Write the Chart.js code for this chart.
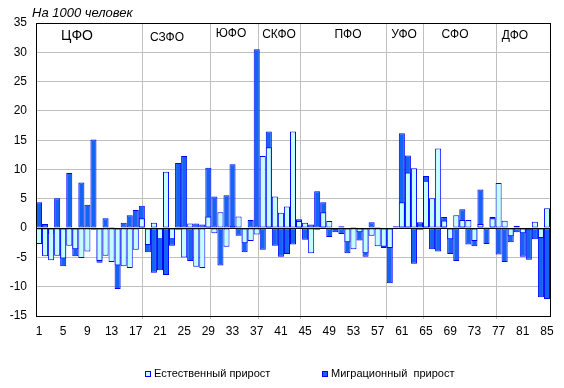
<!DOCTYPE html>
<html><head><meta charset="utf-8">
<script src="https://cdn.jsdelivr.net/npm/chart.js@4"></script>
<style>html,body{margin:0;padding:0;background:#fff;}#wrap{width:564px;height:388px;}</style>
</head><body><div id="wrap"><canvas id="c" width="564" height="388"></canvas></div>
<script>
const categories = ['1','2','3','4','5','6','7','8','9','10','11','12','13','14','15','16','17','18','19','20',
'21','22','23','24','25','26','27','28','29','30','31','32','33','34','35','36','37','38','39','40',
'41','42','43','44','45','46','47','48','49','50','51','52','53','54','55','56','57','58','59','60',
'61','62','63','64','65','66','67','68','69','70','71','72','73','74','75','76','77','78','79','80',
'81','82','83','84','85'];
const naturalGrowth = [-2.7,-4.8,-5.5,-4.7,-5.2,-3.0,-3.6,-5.1,-4.0,-0.3,
-5.6,-4.7,-5.8,-6.4,-6.5,-6.8,-3.7,1.7,-2.9,0.9,
-1.9,9.6,-1.9,-0.3,-5.0,0.8,-6.6,-6.8,2.0,-0.9,
2.7,-3.2,0.3,2.0,-2.6,-2.2,-1.1,12.3,13.8,5.4,
2.6,3.7,16.5,1.2,0.9,-4.3,-0.3,2.7,1.2,-0.3,
0.3,-2.4,-3.6,-0.7,-4.3,-1.3,-3.1,-3.2,-3.4,-0.2,
4.4,9.5,10.2,-0.3,8.1,5.1,13.6,1.3,-1.9,2.2,
1.4,1.4,-2.2,0.7,0.2,1.7,7.7,1.25,-1.4,0.4,
-0.9,-0.3,1.1,-1.7,3.4];
const migrationGrowth = [4.4,0.7,-1.0,5.1,-6.5,9.4,-4.8,7.8,4.0,15.1,
-5.9,1.7,0.2,-10.4,0.9,2.2,3.1,3.8,-4.1,-7.6,
-7.2,-8.0,-3.0,11.1,12.3,-5.6,0.8,0.6,10.3,5.4,
-6.4,5.6,10.9,-1.3,-4.1,1.4,30.5,-3.7,16.5,-3.0,
-4.9,-4.4,-2.8,1.5,-2.0,0.6,6.3,4.4,-1.5,-0.7,
-1.0,-4.3,0.2,-2.1,-4.9,1.0,0.2,-3.4,-9.4,0.3,
16.2,12.4,-6.1,1.0,8.9,-3.6,-4.0,1.9,-4.4,-5.6,
3.2,-2.8,-3.1,6.6,-2.7,1.9,-4.5,-5.8,-2.4,-0.7,
-4.9,-5.4,-1.9,-11.8,-12.1];
const xTickLabels = ['1','5','9','13','17','21','25','29','33','37','41','45','49','53','57','61','65','69','73','77','81','85'];
const yTickValues = [-15,-10,-5,0,5,10,15,20,25,30,35];
const districts = ['ЦФО','СЗФО','ЮФО','СКФО','ПФО','УФО','СФО','ДФО'];
const seriesNames = ['Естественный прирост','Миграционный  прирост'];
const yAxisTitle = 'На 1000 человек';

const FONT = "'Liberation Sans', Arial, sans-serif";

const decor = {
  id: 'decor',
  beforeDatasetsDraw(chart) {
    const {ctx, chartArea: a} = chart;
    const cw = a.width / categories.length;
    const seps = [17.65, 28.82, 36.76, 43.82, 57.88, 64.05, 76.19];
    ctx.save();
    ctx.strokeStyle = '#c0c0c0'; ctx.lineWidth = 1;
    seps.forEach(p => {
      const x = Math.floor(a.left + p * cw) + 0.5;
      ctx.beginPath(); ctx.moveTo(x, a.top); ctx.lineTo(x, a.bottom + 3); ctx.stroke();
    });
    ctx.restore();
  },
  afterDatasetsDraw(chart) {
    const {ctx, chartArea: a, scales} = chart;
    const cw = a.width / categories.length;
    ctx.save();
    // zero line
    const y0 = Math.floor(scales.y.getPixelForValue(0)) + 0.5;
    ctx.strokeStyle = '#000'; ctx.lineWidth = 1;
    ctx.beginPath(); ctx.moveTo(a.left, y0); ctx.lineTo(a.right, y0); ctx.stroke();
    // frame
    ctx.strokeRect(a.left + 0.5, a.top + 0.5, a.width, a.height);
    // district labels
    const lp = [6.78, 21.66, 32.25, 40.19, 51.6, 60.86, 69.29, 79.21];
    const ly = [36.5, 37.5, 33.5, 35, 35, 35, 35, 35.5];
    ctx.fillStyle = '#000'; ctx.textAlign = 'center'; ctx.textBaseline = 'middle';
    districts.forEach((d, i) => {
      ctx.font = (i === 0 ? '14px ' : '12px ') + FONT;
      ctx.fillText(d, a.left + lp[i] * cw, ly[i]);
    });
    // title
    ctx.font = 'italic 13px ' + FONT;
    ctx.textAlign = 'left';
    ctx.fillText(yAxisTitle, 32, 13);
    // legend
    const lx = [145, 322];
    ctx.font = '11px ' + FONT;
    chart.data.datasets.forEach((ds, i) => {
      ctx.fillStyle = ds.backgroundColor;
      ctx.fillRect(lx[i], 371, 6, 6);
      ctx.strokeStyle = ds.borderColor;
      ctx.strokeRect(lx[i] + 0.5, 371.5, 5, 5);
      ctx.fillStyle = '#000';
      ctx.fillText(ds.label, lx[i] + 9, 374);
    });
    ctx.restore();
  }
};

new Chart(document.getElementById('c'), {
  type: 'bar',
  data: {
    labels: categories,
    datasets: [
      {label: seriesNames[0], data: naturalGrowth, backgroundColor: '#c4ffff', borderColor: '#0000ff', borderWidth: 1, borderSkipped: false},
      {label: seriesNames[1], data: migrationGrowth, backgroundColor: '#1464f4', borderColor: '#0000ff', borderWidth: 1, borderSkipped: false}
    ]
  },
  options: {
    responsive: false,
    animation: false,
    devicePixelRatio: 1,
    layout: {padding: {top: 23, left: 0, right: 14, bottom: 0}},
    datasets: {bar: {grouped: false, barPercentage: 1, categoryPercentage: 1, inflateAmount: 0}},
    plugins: {legend: {display: false}, tooltip: {enabled: false}, title: {display: false}},
    scales: {
      x: {
        grid: {display: false, drawTicks: false},
        border: {display: false},
        ticks: {autoSkip: false, maxRotation: 0, minRotation: 0, padding: 8, color: '#000',
          font: {size: 12, family: FONT},
          callback: (v, i) => xTickLabels.includes(categories[i]) ? categories[i] : ''},
        afterFit: s => { s.height = 72; }
      },
      y: {
        min: -15, max: 35,
        afterBuildTicks: s => { s.ticks = yTickValues.map(v => ({value: v})); },
        grid: {color: '#c0c0c0', drawTicks: false},
        border: {display: false},
        ticks: {padding: 9, color: '#000', font: {size: 12, family: FONT}},
        afterFit: s => { s.width = 36; }
      }
    }
  },
  plugins: [decor]
});
</script></body></html>
